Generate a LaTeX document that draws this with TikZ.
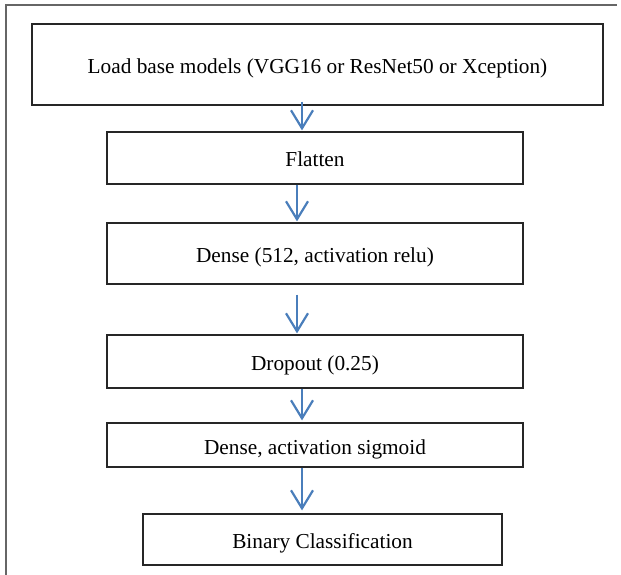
\documentclass[tikz,border=0pt]{standalone}
\usepackage{fontspec}
\setmainfont{Liberation Serif}
\usetikzlibrary{arrows.meta}
\begin{document}
\begin{tikzpicture}[x=1pt, y=-1pt,
        box/.style = {rectangle, draw=black!85, line width=1.2pt, minimum width=416pt, minimum height=52pt, align=center, font=\fontsize{21.3}{24}\selectfont, inner sep=0pt, text height=18pt, text depth=0pt},
        arrow/.style = {draw={rgb,255:red,74;green,126;blue,187}, line width=2.2pt, -{Straight Barb[length=18pt, width=22pt, line width=2.2pt]}},
        frame/.style = {draw=black!60, line width=1.5pt}
    ]
    \useasboundingbox (0,0) rectangle (621,575);
    % ================= MARCO =================
    \draw[frame] (6,575) -- (6,5) -- (617,5);

    % ================= CAJAS =================
    \node[box, minimum width=571pt, minimum height=81pt] (load) at (317.5, 64.5) {Load base models (VGG16 or ResNet50 or Xception)};
    \node[box] (flat) at (315, 158) {Flatten};
    \node[box, minimum height=61pt] (dense) at (315, 253.5) {Dense (512, activation relu)};
    \node[box, minimum height=53pt] (drop) at (315, 361.5) {Dropout (0.25)};
    \node[box, minimum height=44pt] (sigm) at (315, 445) {Dense, activation sigmoid};
    \node[box, minimum width=359pt, minimum height=51pt] (bin) at (322.5, 539.5) {Binary Classification};

    % ================= FLECHAS =================
    \draw[arrow, shorten <=-4pt, shorten >=1pt] ([xshift=-15.5pt]load.south) -- ([xshift=-13pt]flat.north);
    \draw[arrow, shorten >=1pt] ([xshift=-18pt]flat.south) -- ([xshift=-18pt]dense.north);
    \draw[arrow, shorten <=10pt, shorten >=1pt] ([xshift=-18pt]dense.south) -- ([xshift=-18pt]drop.north);
    \draw[arrow, shorten >=2pt] ([xshift=-13pt]drop.south) -- ([xshift=-13pt]sigm.north);
    \draw[arrow, shorten >=3pt] ([xshift=-13pt]sigm.south) -- ([xshift=-20.5pt]bin.north);

\end{tikzpicture}
\end{document}
